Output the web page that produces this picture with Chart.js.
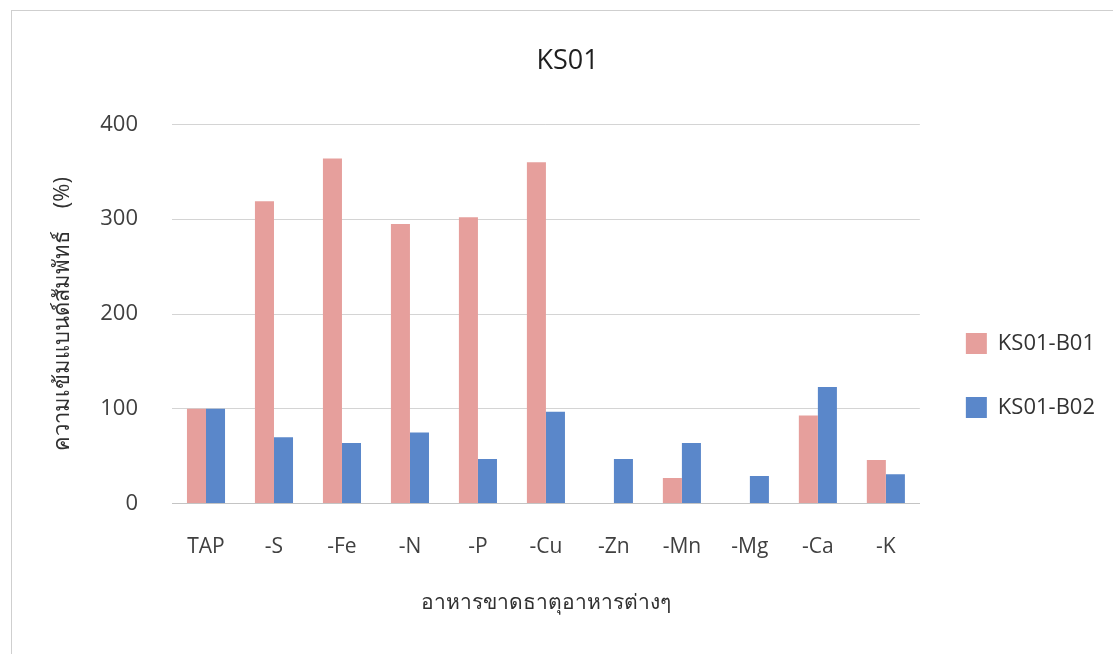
<!DOCTYPE html>
<html>
<head>
<meta charset="utf-8">
<script src="https://cdn.jsdelivr.net/npm/chart.js@4/dist/chart.umd.min.js"></script>
<style>
  html, body { margin: 0; padding: 0; background: #ffffff; overflow: hidden; }
  #frame {
    position: absolute; left: 11px; top: 10px;
    width: 1200px; height: 700px;
    border: 1px solid #cfcfcf; box-sizing: border-box;
  }
  #c { position: absolute; left: 0; top: 0; }
</style>
</head>
<body>
<div id="frame"></div>
<canvas id="c" width="1113" height="654"></canvas>
<script>
// Nutrient-deficient media and relative band intensity (%) for each isolate
const categories = ['TAP', '-S', '-Fe', '-N', '-P', '-Cu', '-Zn', '-Mn', '-Mg', '-Ca', '-K'];
const seriesNames = ['KS01-B01', 'KS01-B02'];
const valuesB01 = [100, 319, 364, 295, 302, 360, 0, 27, 0, 93, 46];
const valuesB02 = [100, 70, 64, 75, 47, 97, 47, 64, 29, 123, 31];
const yTicks = [0, 100, 200, 300, 400];

const chartTitle = 'KS01';
const yTitle = 'ความเข้มแบนด์สัมพัทธ์    (%)';
const xTitle = 'อาหารขาดธาตุอาหารต่างๆ';

const FONT = "'Open Sans', 'Noto Sans', sans-serif";

// Shifts the legend column and the chart title after layout
const blockOffset = {
  id: 'blockOffset',
  afterLayout(chart, args, opts) {
    const lg = chart.legend;
    if (lg) {
      lg.top += opts.legendDy; lg.bottom += opts.legendDy;
      lg.left += opts.legendDx; lg.right += opts.legendDx;
    }
    const tb = chart.titleBlock;
    if (tb) { tb.left += opts.titleDx; tb.right += opts.titleDx; }
  }
};

new Chart(document.getElementById('c'), {
  type: 'bar',
  data: {
    labels: categories,
    datasets: [
      {
        label: seriesNames[0],
        data: valuesB01,
        backgroundColor: '#E69F9C',
        borderWidth: 0,
        barPercentage: 1.0,
        categoryPercentage: 0.56
      },
      {
        label: seriesNames[1],
        data: valuesB02,
        backgroundColor: '#5A87CA',
        borderWidth: 0,
        barPercentage: 1.0,
        categoryPercentage: 0.56
      }
    ]
  },
  plugins: [blockOffset],
  options: {
    responsive: false,
    animation: false,
    layout: { padding: { left: 20, right: 12, top: 45, bottom: 38 } },
    plugins: {
      blockOffset: { legendDx: 4, legendDy: 45, titleDx: 7 },
      title: {
        display: true,
        text: chartTitle,
        color: '#1f1f1f',
        font: { family: FONT, size: 27, weight: 'normal' },
        padding: { top: 0, bottom: 47 }
      },
      legend: {
        position: 'right',
        labels: {
          color: '#333333',
          font: { family: FONT, size: 22 },
          boxWidth: 21,
          boxHeight: 21,
          padding: 42
        }
      },
      tooltip: { enabled: false }
    },
    scales: {
      x: {
        grid: { display: false, drawTicks: false },
        border: { display: true, color: '#c4c4c4', width: 1 },
        ticks: { color: '#404040', font: { family: FONT, size: 21 }, padding: 31 },
        title: {
          display: true,
          text: xTitle,
          color: '#303030',
          font: { family: FONT, size: 21 },
          padding: { top: 0, bottom: 0 }
        }
      },
      y: {
        min: 0,
        max: 400,
        afterBuildTicks: (scale) => { scale.ticks = yTicks.map(v => ({ value: v })); },
        afterFit: (scale) => { scale.width = 152; },
        grid: { color: '#d4d4d4', lineWidth: 1, drawTicks: false },
        border: { display: false },
        ticks: { color: '#404040', font: { family: FONT, size: 22 }, padding: 34 },
        title: {
          display: true,
          text: yTitle,
          color: '#303030',
          font: { family: FONT, size: 22 },
          padding: { top: 30, bottom: 16 }
        }
      }
    }
  }
});
</script>
</body>
</html>
